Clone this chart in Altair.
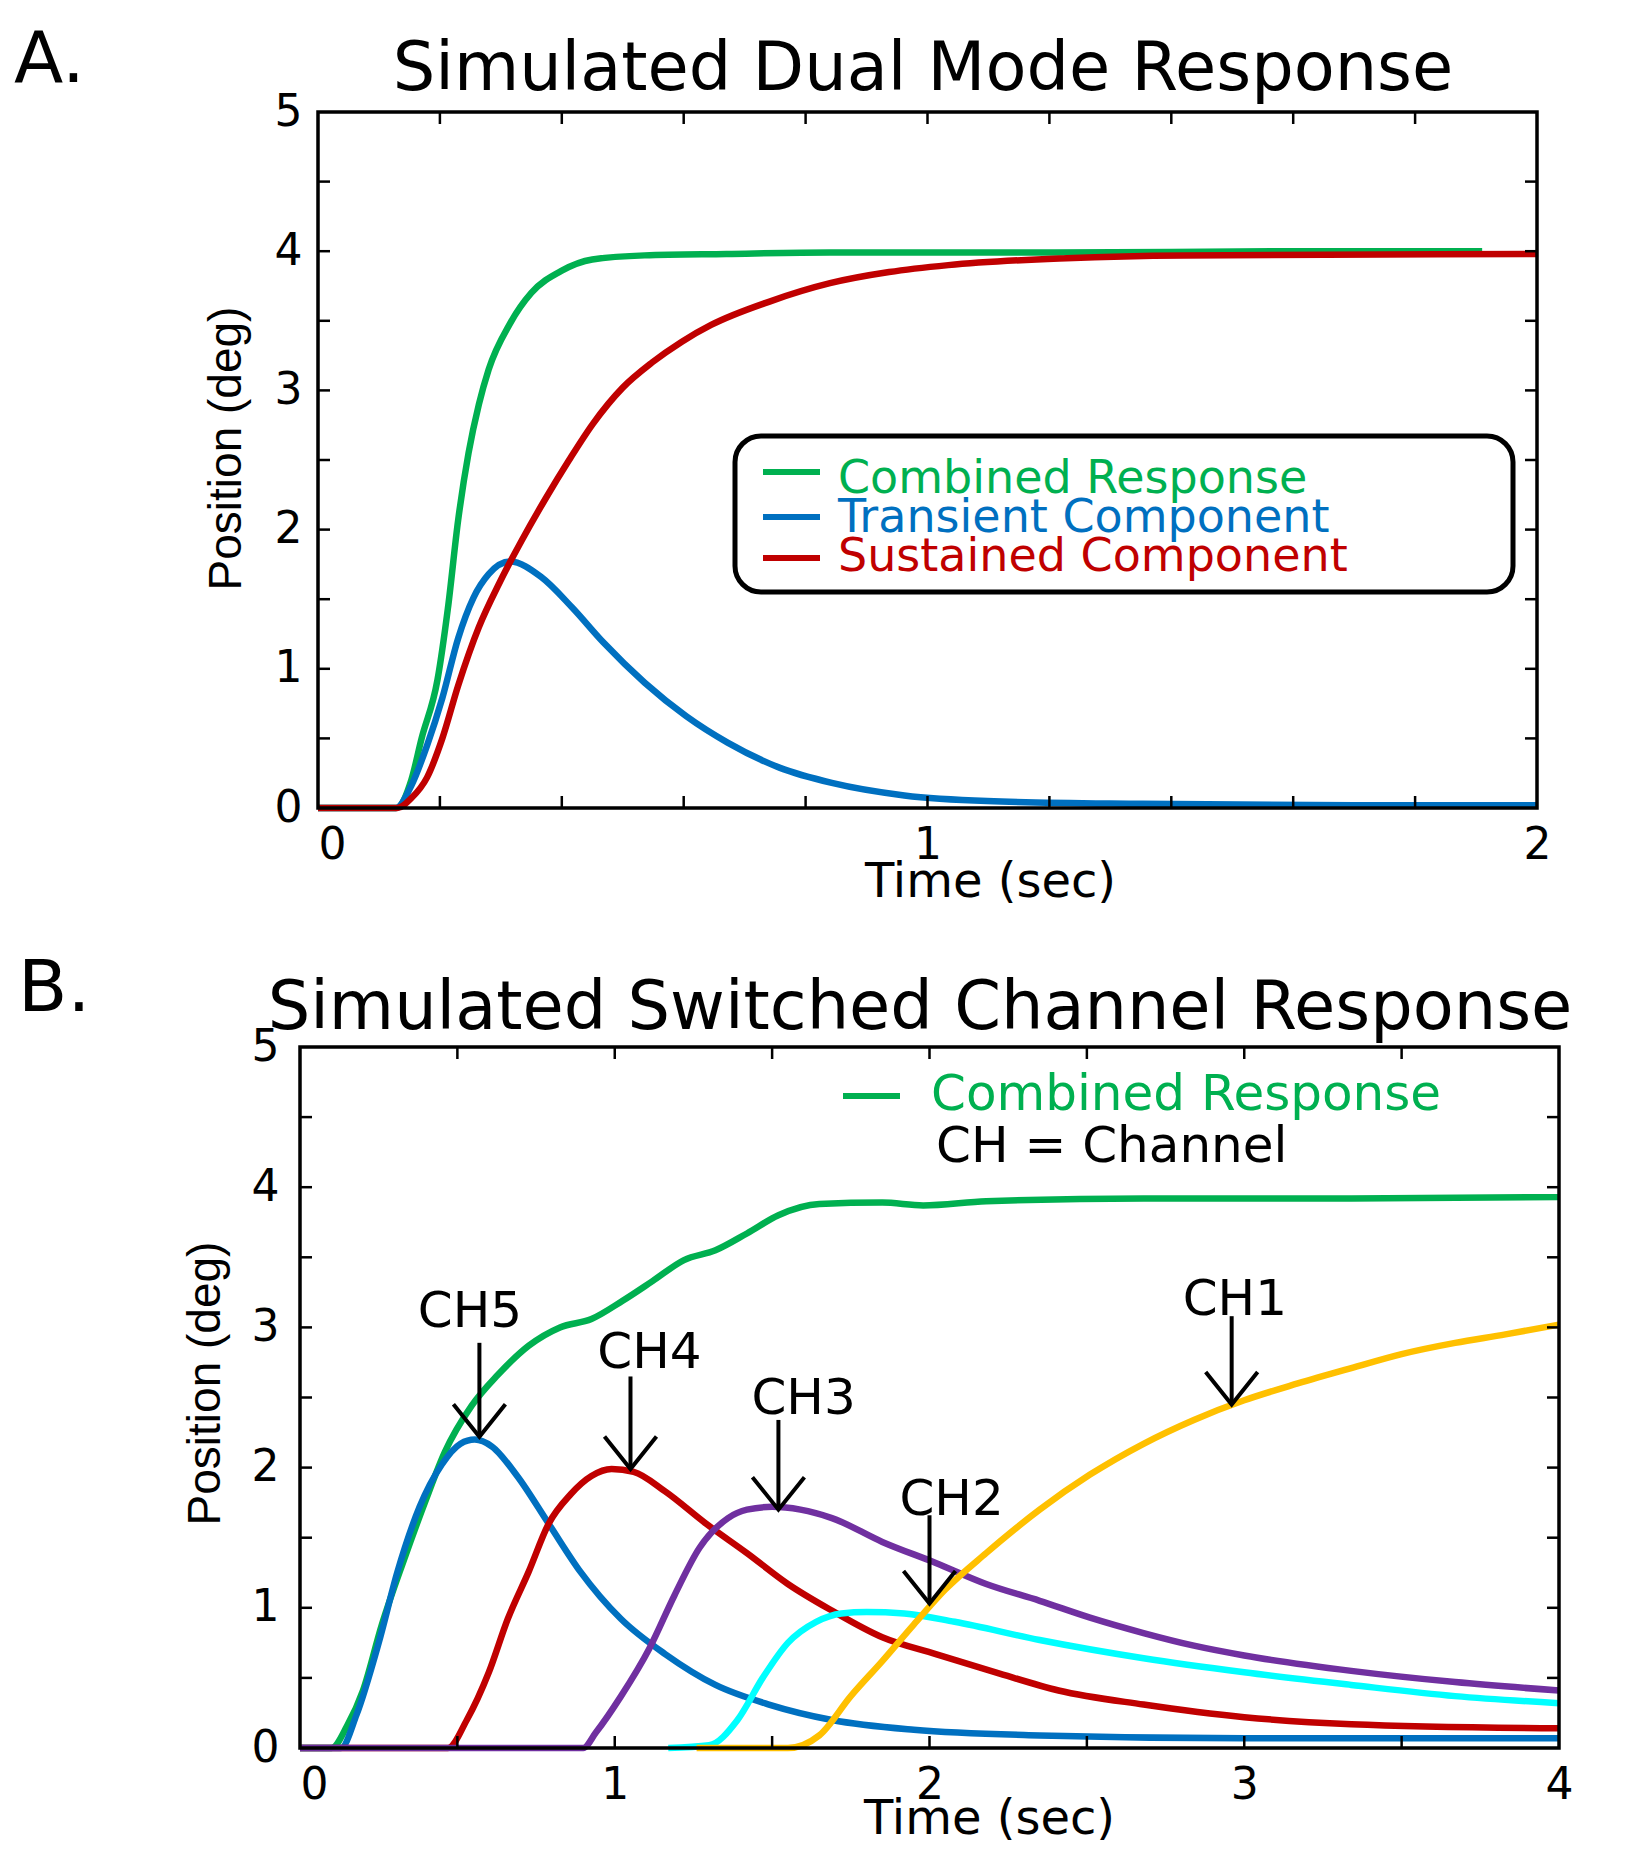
import altair as alt
import pandas as pd

# ---------------- Panel A data ----------------
A_names = ["Combined Response", "Transient Component", "Sustained Component"]
A_colors = ["#00B050", "#0070C0", "#C00000"]

A_comb_t = [0, 0.128, 0.153, 0.17, 0.196, 0.213, 0.23, 0.247, 0.264, 0.28, 0.315, 0.35, 0.40, 0.45, 0.536, 0.67, 0.84, 1.2, 1.6, 1.91]
A_comb_v = [0, 0, 0.2, 0.5, 0.92, 1.43, 2.07, 2.55, 2.9, 3.15, 3.48, 3.7, 3.86, 3.94, 3.97, 3.98, 3.99, 3.99, 4.0, 4.0]

A_trans_t = [0, 0.128, 0.153, 0.179, 0.204, 0.23, 0.255, 0.28, 0.315, 0.366, 0.417, 0.468, 0.536, 0.604, 0.672, 0.757, 0.843, 0.962, 1.098, 1.353, 1.7, 2.0]
A_trans_v = [0, 0, 0.16, 0.45, 0.79, 1.22, 1.51, 1.68, 1.77, 1.66, 1.44, 1.19, 0.90, 0.66, 0.47, 0.29, 0.18, 0.09, 0.05, 0.03, 0.02, 0.02]

A_sust_t = [0, 0.13, 0.153, 0.179, 0.204, 0.23, 0.264, 0.298, 0.334, 0.373, 0.412, 0.451, 0.50, 0.548, 0.597, 0.645, 0.742, 0.84, 0.937, 1.034, 1.228, 1.42, 2.0]
A_sust_v = [0, 0, 0.07, 0.22, 0.5, 0.88, 1.3, 1.62, 1.92, 2.22, 2.5, 2.76, 3.02, 3.2, 3.35, 3.47, 3.64, 3.77, 3.85, 3.9, 3.95, 3.97, 3.98]

A_xlabels = [0, 1, 2]
A_xticks = [0.2, 0.4, 0.6, 0.8, 1.0, 1.2, 1.4, 1.6, 1.8]

# ---------------- Panel B data ----------------
B_names = ["Combined Response", "CH5", "CH4", "CH3", "CH2", "CH1"]
B_colors = ["#00B050", "#0070C0", "#C00000", "#7030A0", "#00FFFF", "#FFC000"]

B_comb_t = [0, 0.1, 0.15, 0.2, 0.26, 0.33, 0.40, 0.46, 0.545, 0.628, 0.727, 0.826, 0.926, 1.025, 1.12, 1.22, 1.32, 1.42, 1.52, 1.65, 1.85, 1.98, 2.18, 2.68, 3.34, 4.0]
B_comb_v = [0, 0, 0.16, 0.41, 0.88, 1.34, 1.77, 2.11, 2.44, 2.66, 2.87, 3.0, 3.06, 3.19, 3.33, 3.48, 3.55, 3.67, 3.8, 3.88, 3.89, 3.87, 3.9, 3.92, 3.92, 3.93]

B_ch5_t = [0, 0.13, 0.18, 0.25, 0.31, 0.38, 0.45, 0.51, 0.555, 0.61, 0.69, 0.79, 0.89, 1.02, 1.16, 1.32, 1.49, 1.69, 1.95, 2.35, 3.0, 4.0]
B_ch5_v = [0, 0, 0.24, 0.75, 1.26, 1.72, 2.02, 2.17, 2.2, 2.15, 1.94, 1.6, 1.26, 0.92, 0.67, 0.45, 0.31, 0.2, 0.13, 0.09, 0.07, 0.07]

B_ch4_t = [0, 0.47, 0.53, 0.6, 0.66, 0.727, 0.79, 0.86, 0.926, 0.99, 1.06, 1.16, 1.29, 1.42, 1.55, 1.69, 1.85, 2.02, 2.21, 2.41, 2.68, 3.0, 3.34, 4.0]
B_ch4_v = [0, 0, 0.2, 0.54, 0.92, 1.26, 1.6, 1.81, 1.94, 1.99, 1.97, 1.83, 1.6, 1.39, 1.17, 0.98, 0.79, 0.67, 0.54, 0.41, 0.31, 0.22, 0.17, 0.14]

B_ch3_t = [0, 0.9, 0.94, 1.02, 1.11, 1.19, 1.27, 1.36, 1.42, 1.50, 1.59, 1.69, 1.85, 2.02, 2.18, 2.35, 2.51, 2.68, 2.84, 3.0, 3.34, 3.67, 4.0]
B_ch3_v = [0, 0, 0.11, 0.37, 0.71, 1.09, 1.43, 1.64, 1.70, 1.72, 1.70, 1.64, 1.47, 1.32, 1.17, 1.05, 0.93, 0.82, 0.73, 0.66, 0.55, 0.47, 0.41]

B_ch2_t = [1.17, 1.30, 1.39, 1.47, 1.55, 1.64, 1.72, 1.80, 1.92, 2.08, 2.35, 2.68, 3.0, 3.34, 3.67, 4.0]
B_ch2_v = [0, 0.02, 0.2, 0.5, 0.75, 0.9, 0.96, 0.97, 0.96, 0.9, 0.77, 0.64, 0.54, 0.45, 0.37, 0.32]

B_ch1_t = [1.26, 1.55, 1.65, 1.75, 1.85, 1.95, 2.05, 2.18, 2.35, 2.51, 2.68, 2.84, 3.0, 3.17, 3.34, 3.5, 3.67, 3.83, 4.0]
B_ch1_v = [0, 0, 0.09, 0.37, 0.62, 0.88, 1.13, 1.39, 1.70, 1.95, 2.17, 2.34, 2.48, 2.6, 2.71, 2.81, 2.89, 2.95, 3.02]

B_xlabels = [0, 1, 2, 3, 4]
B_xticks = [0.5, 1.0, 1.5, 2.0, 2.5, 3.0, 3.5]

# channel annotations (label and arrow positions in data units)
ch_labels = ["CH5", "CH4", "CH3", "CH2", "CH1"]
ch_label_t = [0.54, 1.11, 1.60, 2.07, 2.97]
ch_label_v = [3.00, 2.71, 2.38, 1.66, 3.09]
ch_arrow_t = [0.57, 1.05, 1.52, 2.00, 2.96]
ch_arrow_top = [2.89, 2.65, 2.34, 1.66, 3.08]
ch_arrow_tip = [2.22, 1.99, 1.70, 1.03, 2.45]

y_labels = [0, 1, 2, 3, 4, 5]
y_ticks = [0.5, 1.0, 1.5, 2.0, 2.5, 3.0, 3.5, 4.0, 4.5]

FONT = "DejaVu Sans"
AFONT = "Liberation Sans"
LINE_W = 6.5
TICK_L = 12
FRAME_W = 3.5


def long_df(items):
    rows = []
    for name, ts, vs in items:
        for t, v in zip(ts, vs):
            rows.append({"series": name, "t": t, "v": v})
    return pd.DataFrame(rows)


def axes(xvals, title_x, title_y, label_pad_y, ytitle_x, y_offset):
    xax = alt.Axis(values=xvals, format=".0f", tickCount=len(xvals), ticks=False, tickSize=0,
                   domain=False, grid=False,
                   labelFont=FONT, labelFontSize=44, labelColor="black", labelPadding=15,
                   labelAngle=0, labelOverlap=False, labelFlush=False,
                   labelAlign=alt.condition("datum.value == 0", alt.value("left"), alt.value("center")),
                   title="Time (sec)", titleFont=FONT, titleFontSize=48,
                   titleFontWeight="normal", titleColor="black", titleX=title_x, titleY=title_y,
                   titleBaseline="alphabetic", titleAlign="center")
    yax = alt.Axis(values=y_labels, format=".0f", ticks=False, tickSize=0, domain=False, grid=False,
                   labelFont=FONT, labelFontSize=44, labelColor="black", labelPadding=label_pad_y,
                   labelOverlap=False, offset=y_offset,
                   title="Position (deg)", titleFont=AFONT, titleFontSize=46,
                   titleFontWeight="normal", titleColor="black", titleX=ytitle_x, titleY=336,
                   titleAngle=270, titleBaseline="alphabetic", titleAlign="center")
    return xax, yax


def frame_and_ticks(xticks, xs, ys, xax, yax, x0, x1, H):
    tx = pd.DataFrame({"t": xticks})
    ty = pd.DataFrame({"v": y_ticks})
    st = dict(color="black", strokeWidth=2.5)
    return [
        alt.Chart(tx).mark_rule(**st).encode(x=alt.X("t:Q", scale=xs, axis=xax),
                                             y=alt.value(H), y2=alt.value(H - TICK_L)),
        alt.Chart(tx).mark_rule(**st).encode(x=alt.X("t:Q", scale=xs, axis=xax),
                                             y=alt.value(0), y2=alt.value(TICK_L)),
        alt.Chart(ty).mark_rule(**st).encode(y=alt.Y("v:Q", scale=ys, axis=yax),
                                             x=alt.value(x0), x2=alt.value(x0 + TICK_L)),
        alt.Chart(ty).mark_rule(**st).encode(y=alt.Y("v:Q", scale=ys, axis=yax),
                                             x=alt.value(x1), x2=alt.value(x1 - TICK_L)),
        alt.Chart(pd.DataFrame({"k": [1]})).mark_rect(
            fillOpacity=0, stroke="black", strokeWidth=FRAME_W
        ).encode(x=alt.value(x0), x2=alt.value(x1), y=alt.value(0), y2=alt.value(H)),
    ]


def text_mark(text, x, y, size, align="left"):
    return alt.Chart(pd.DataFrame({"label": [text]})).mark_text(
        font=FONT, fontSize=size, align=align, baseline="alphabetic", color="black"
    ).encode(text="label:N", x=alt.value(x), y=alt.value(y))


# ---------------- Panel A ----------------
WA, HA = 1219, 696
xA = alt.Scale(domain=[0, 2], range=[0, WA], nice=False, zero=False)
yA = alt.Scale(domain=[0, 5], nice=False)
cA = alt.Scale(domain=A_names, range=A_colors)
xaxA, yaxA = axes(A_xlabels, 672, 88, 16, -78, 0)

dfA = long_df([(A_names[0], A_comb_t, A_comb_v),
               (A_names[1], A_trans_t, A_trans_v),
               (A_names[2], A_sust_t, A_sust_v)])

linesA = alt.Chart(dfA).mark_line(strokeWidth=LINE_W, interpolate="monotone", strokeCap="butt").encode(
    x=alt.X("t:Q", scale=xA, axis=xaxA),
    y=alt.Y("v:Q", scale=yA, axis=yaxA),
    color=alt.Color("series:N", scale=cA, legend=None),
)

legend_box = alt.Chart(pd.DataFrame({"k": [1]})).mark_rect(
    fill="white", stroke="black", strokeWidth=5, cornerRadius=26
).encode(x=alt.value(417), x2=alt.value(1195), y=alt.value(324), y2=alt.value(480))

legA_layers = [legend_box]
sym_y = [360, 405, 446]
txt_y = [381, 420, 459]
for i, name in enumerate(A_names):
    d = pd.DataFrame({"series": [name]})
    legA_layers.append(alt.Chart(d).mark_rule(strokeWidth=6).encode(
        x=alt.value(445), x2=alt.value(502), y=alt.value(sym_y[i]),
        color=alt.Color("series:N", scale=cA, legend=None)))
    legA_layers.append(alt.Chart(d).mark_text(font=FONT, fontSize=46, align="left", baseline="alphabetic").encode(
        x=alt.value(520), y=alt.value(txt_y[i]), text="series:N",
        color=alt.Color("series:N", scale=cA, legend=None)))

panelA = alt.layer(
    linesA, *frame_and_ticks(A_xticks, xA, yA, xaxA, yaxA, 0, WA, HA), *legA_layers,
    text_mark("A.", -304, -30, 72),
    text_mark("Simulated Dual Mode Response", 605, -22, 67, align="center"),
).properties(width=WA, height=HA)

# ---------------- Panel B ----------------
# panel B's frame starts 18 px left of panel A's frame
B_X0, B_X1, HB = -18, 1241, 701
xB = alt.Scale(domain=[0, 4], range=[B_X0, B_X1], nice=False, zero=False)
yB = alt.Scale(domain=[0, 5], nice=False)
cB = alt.Scale(domain=B_names, range=B_colors)
xaxB, yaxB = axes(B_xlabels, 671, 85, 21, -81, -B_X0)

dfB_comb = long_df([(B_names[0], B_comb_t, B_comb_v)])
dfB_ch = long_df([(B_names[1], B_ch5_t, B_ch5_v), (B_names[2], B_ch4_t, B_ch4_v),
                  (B_names[3], B_ch3_t, B_ch3_v), (B_names[4], B_ch2_t, B_ch2_v),
                  (B_names[5], B_ch1_t, B_ch1_v)])


def lines_b(df):
    return alt.Chart(df).mark_line(strokeWidth=LINE_W, interpolate="monotone", strokeCap="butt").encode(
        x=alt.X("t:Q", scale=xB, axis=xaxB),
        y=alt.Y("v:Q", scale=yB, axis=yaxB),
        color=alt.Color("series:N", scale=cB, legend=None),
    )


dfLab = pd.DataFrame({"name": ch_labels, "t": ch_label_t, "v": ch_label_v})
dfArr = pd.DataFrame({"t": ch_arrow_t, "v": ch_arrow_top, "tip": ch_arrow_tip})

ch_text = alt.Chart(dfLab).mark_text(font=FONT, fontSize=50, align="center", baseline="alphabetic",
                                     color="black").encode(
    x=alt.X("t:Q", scale=xB, axis=xaxB), y=alt.Y("v:Q", scale=yB, axis=yaxB), text="name:N")
ch_shaft = alt.Chart(dfArr).mark_rule(color="black", strokeWidth=4).encode(
    x=alt.X("t:Q", scale=xB, axis=xaxB), y=alt.Y("v:Q", scale=yB, axis=yaxB), y2="tip:Q")
ch_head = alt.Chart(dfArr).mark_point(shape="M -1 -1.25 L 0 0 L 1 -1.25", size=2704, filled=False,
                                      color="black", strokeWidth=4, opacity=1).encode(
    x=alt.X("t:Q", scale=xB, axis=xaxB), y=alt.Y("tip:Q", scale=yB, axis=yaxB))

legB_sym = alt.Chart(pd.DataFrame({"series": [B_names[0]]})).mark_rule(strokeWidth=6).encode(
    x=alt.value(525), x2=alt.value(582), y=alt.value(49),
    color=alt.Color("series:N", scale=cB, legend=None))
legB_txt = alt.Chart(pd.DataFrame({"series": [B_names[0]]})).mark_text(
    font=FONT, fontSize=50, align="left", baseline="alphabetic").encode(
    x=alt.value(613), y=alt.value(63), text="series:N",
    color=alt.Color("series:N", scale=cB, legend=None))

panelB = alt.layer(
    lines_b(dfB_comb), lines_b(dfB_ch),
    *frame_and_ticks(B_xticks, xB, yB, xaxB, yaxB, B_X0, B_X1, HB),
    ch_shaft, ch_head, ch_text, legB_sym, legB_txt,
    text_mark("CH = Channel", 618, 115, 50),
    text_mark("B.", -300, -36, 72),
    text_mark("Simulated Switched Channel Response", 602, -18, 67, align="center"),
).properties(width=B_X1, height=HB)

chart = alt.vconcat(panelA, panelB, spacing=47).resolve_scale(
    x="independent", y="independent", color="independent"
).properties(
    padding={"left": 6, "top": 16, "right": 5, "bottom": 2},
    background="white",
).configure_view(stroke="transparent", strokeWidth=0)

chart.save("out.html", embed_options={"renderer": "svg", "actions": False})
